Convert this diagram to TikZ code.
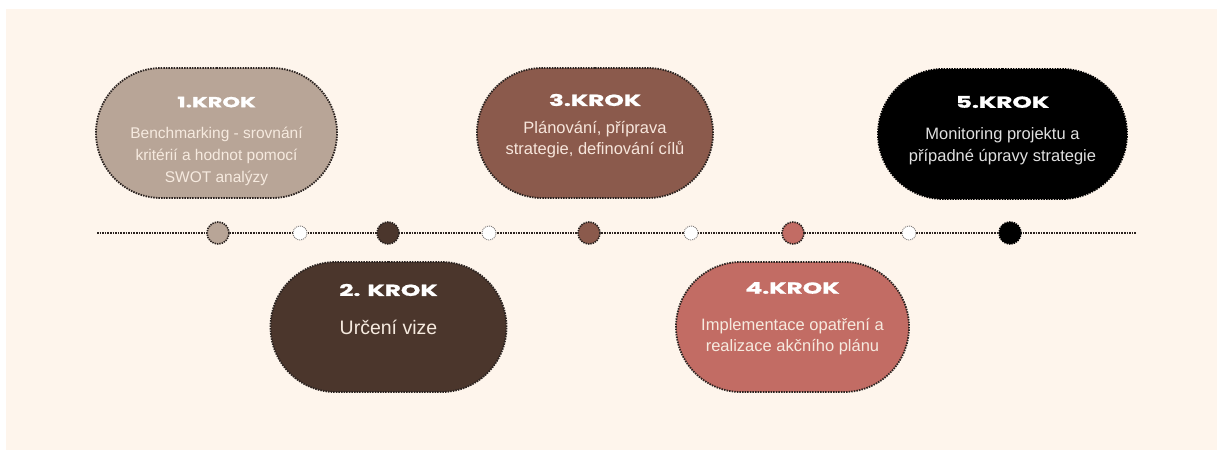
\documentclass[tikz,border=0pt]{standalone}
\usepackage{fontspec}
\setmainfont{Liberation Sans}
\newfontfamily\krokfont{Poppins}[FakeStretch=1.55, BoldFeatures={FakeBold=1.2}]
\usetikzlibrary{positioning, shapes.misc}
\definecolor{bgcream}{HTML}{FEF5EC}
\definecolor{dotline}{HTML}{2B2320}
\definecolor{tan}{HTML}{B8A597}
\definecolor{darkbrown}{HTML}{4B362C}
\definecolor{brownred}{HTML}{8B5A4C}
\definecolor{rose}{HTML}{C26C64}
\definecolor{offwhite}{HTML}{F6EADF}

\begin{document}
\begin{tikzpicture}[x=1pt, y=-1pt,
    stepbox/.style={rounded rectangle, draw=dotline, line width=1.8pt,
                    dash pattern=on 1.5pt off 1.1pt,
                    minimum height=130pt, inner sep=0pt},
    krok/.style={font=\krokfont\bfseries\fontsize{16}{18}\selectfont, text=white},
    body/.style={font=\fontsize{16.5}{21}\selectfont, text=offwhite, align=center},
    bigdot/.style={circle, draw=dotline, line width=1.6pt,
                   dash pattern=on 1.4pt off 1pt, minimum size=22pt, inner sep=0pt},
    smalldot/.style={circle, draw=dotline!60, fill=white, line width=0.9pt,
                     dash pattern=on 1pt off 1pt, minimum size=14pt, inner sep=0pt},
    timeline/.style={dotline, line width=2pt, dash pattern=on 1.5pt off 1.1pt}
  ]

  \useasboundingbox (0,0) rectangle (1217,450);
  \fill[bgcream] (6,9) rectangle (1217,450);

  % Timeline
  \coordinate (lstart) at (97,233);
  \coordinate (lend) at (1137,233);
  \draw[timeline] (lstart) -- (lend);

  % Dots on the timeline
  \node[bigdot, fill=tan]       (d1) at (218,233)  {};
  \node[smalldot]               (w1) at (300,233)  {};
  \node[bigdot, fill=darkbrown] (d2) at (388,233)  {};
  \node[smalldot]               (w2) at (489,233)  {};
  \node[bigdot, fill=brownred]  (d3) at (589,233)  {};
  \node[smalldot]               (w3) at (691,233)  {};
  \node[bigdot, fill=rose]      (d4) at (793,233)  {};
  \node[smalldot]               (w4) at (909,233)  {};
  \node[bigdot, fill=black, draw=black] (d5) at (1010,233) {};

  % Step 1
  \node[stepbox, fill=tan, minimum width=241pt] (s1) at (216.5,133) {};
  \node[krok, font=\krokfont\bfseries\fontsize{14.5}{16}\selectfont] (k1) at (216.5,102) {1.KROK};
  \node[body, font=\fontsize{15.5}{22}\selectfont] (b1) at (216.5,156) {Benchmarking - srovnání\\kritérií a hodnot pomocí\\SWOT analýzy};

  % Step 2
  \node[stepbox, fill=darkbrown, minimum width=236pt] (s2) at (388.5,327) {};
  \node[krok] (k2) at (388.5,290) {2. KROK};
  \node[body, font=\fontsize{19.5}{22}\selectfont] (b2) at (388.5,327) {Určení vize};

  % Step 3
  \node[stepbox, fill=brownred, minimum width=236pt] (s3) at (595,133) {};
  \node[krok] (k3) at (595,100) {3.KROK};
  \node[body, text=offwhite!90!pink] (b3) at (595,140) {Plánování, příprava\\strategie, definování cílů};

  % Step 4
  \node[stepbox, fill=rose, minimum width=233pt] (s4) at (792.5,327) {};
  \node[krok] (k4) at (792.5,288) {4.KROK};
  \node[body] (b4) at (792.5,337) {Implementace opatření a\\realizace akčního plánu};

  % Step 5
  \node[stepbox, fill=black, draw=black, minimum width=249pt] (s5) at (1002.5,134) {};
  \node[krok] (k5) at (1002.5,102) {5.KROK};
  \node[body, font=\fontsize{16.5}{22}\selectfont, text=white!88!black] (b5) at (1002.5,146) {Monitoring projektu a\\případné úpravy strategie};

\end{tikzpicture}
\end{document}
